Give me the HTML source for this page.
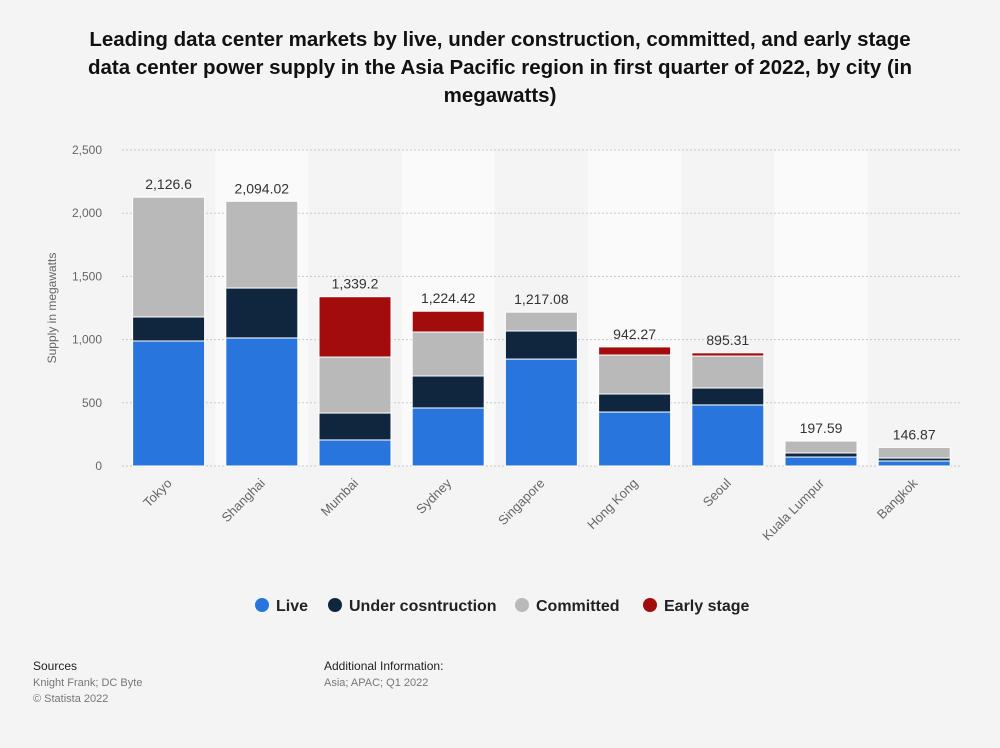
<!DOCTYPE html>
<html><head><meta charset="utf-8"><style>
body{margin:0;background:#f4f4f4;font-family:"Liberation Sans",Arial,sans-serif;}
#wrap{position:relative;width:1000px;height:743px;background:#f4f4f4;}
</style></head><body>
<div id="wrap">
<svg id="c" width="1000" height="743"></svg>
</div>
<script>
const categories=["Tokyo","Shanghai","Mumbai","Sydney","Singapore","Hong Kong","Seoul","Kuala Lumpur","Bangkok"];
const live=[989,1013,206,459,846,427,483,71,40];
const underConstruction=[190,395,213,253,222,143,134,32,23];
const committed=[947.6,686.02,443,348,149.08,308,253,94.59,83.87];
const earlyStage=[0,0,477.2,164.42,0,64.27,25.31,0,0];
const totalLabels=["2,126.6","2,094.02","1,339.2","1,224.42","1,217.08","942.27","895.31","197.59","146.87"];
const yTicks=[0,500,1000,1500,2000,2500];
const yTickLabels=["0","500","1,000","1,500","2,000","2,500"];
const seriesNames=["Live","Under cosntruction","Committed","Early stage"];
const colors=["#2876dd","#10263f","#b9b9b9","#a30c0c"];

const NS="http://www.w3.org/2000/svg";
const svg=document.getElementById('c');
function mk(t,a,txt){const e=document.createElementNS(NS,t);for(const k in a)e.setAttribute(k,a[k]);if(txt!==undefined)e.textContent=txt;svg.appendChild(e);return e;}
const x0=122,step=93.2,bw=72,yBase=466,yTop=150,yMax=2500;
const y=v=>yBase-(v/yMax)*(yBase-yTop);
const xc=i=>x0+step*(i+0.5);

["Leading data center markets by live, under construction, committed, and early stage","data center power supply in the Asia Pacific region in first quarter of 2022, by city (in","megawatts)"].forEach((l,i)=>{
 const t=mk('text',{x:500,y:46+i*28,'text-anchor':'middle','font-size':20.5,'font-weight':'bold',fill:'#111'},l);
 
 
});
categories.forEach((c,i)=>{if(i%2===1){const r=mk('rect',{x:x0+step*i,y:yTop,width:step,height:yBase-yTop,fill:'#fafafa'});
 
 }});
yTicks.forEach((v,i)=>{
 const l=mk('line',{x1:x0,x2:960,y1:y(v),y2:y(v),stroke:'#c8c8c8','stroke-dasharray':'2,2'});
 
 
 const t=mk('text',{x:102,y:y(v)+4,'text-anchor':'end','font-size':12,fill:'#666'},yTickLabels[i]);
 
 
});
const yt=mk('text',{x:56,y:308,'text-anchor':'middle','font-size':12,fill:'#666',transform:'rotate(-90 56 308)'},'Supply in megawatts');


const series=[live,underConstruction,committed,earlyStage];
categories.forEach((c,i)=>{
 let acc=0;
 series.forEach((s,k)=>{
  const v=s[i]; if(v<=0)return;
  const r=mk('rect',{x:xc(i)-bw/2,y:y(acc+v),width:bw,height:y(acc)-y(acc+v),fill:colors[k],stroke:'#fff','stroke-width':1});
  
  
  acc+=v;
 });
 const t=mk('text',{x:xc(i),y:y(acc)-8,'text-anchor':'middle','font-size':14,fill:'#333'},totalLabels[i]);
 
 
 const lx=xc(i)+4,ly=484;
 const xl=mk('text',{x:lx,y:ly,'text-anchor':'end','font-size':13,fill:'#666',transform:`rotate(-45 ${lx} ${ly})`},c);
 
 
});
const lx=[262,335,522,650];
seriesNames.forEach((n,k)=>{
 const g=document.createElementNS(NS,'g');svg.appendChild(g);
 
 
 const c=document.createElementNS(NS,'circle');c.setAttribute('cx',lx[k]);c.setAttribute('cy',605);c.setAttribute('r',7);c.setAttribute('fill',colors[k]);g.appendChild(c);
 const t=document.createElementNS(NS,'text');t.setAttribute('x',lx[k]+14);t.setAttribute('y',611);t.setAttribute('font-size',16);t.setAttribute('font-weight','bold');t.setAttribute('fill','#222');t.textContent=n;g.appendChild(t);
});
[[33,670,'Sources','#222',12],[33,686,'Knight Frank; DC Byte','#777',11],[33,702,'© Statista 2022','#777',11],[324,670,'Additional Information:','#222',12],[324,686,'Asia; APAC; Q1 2022','#777',11]].forEach(f=>{
 const t=mk('text',{x:f[0],y:f[1],'font-size':f[4],fill:f[3]},f[2]);
 
 
});
</script>
</body></html>
